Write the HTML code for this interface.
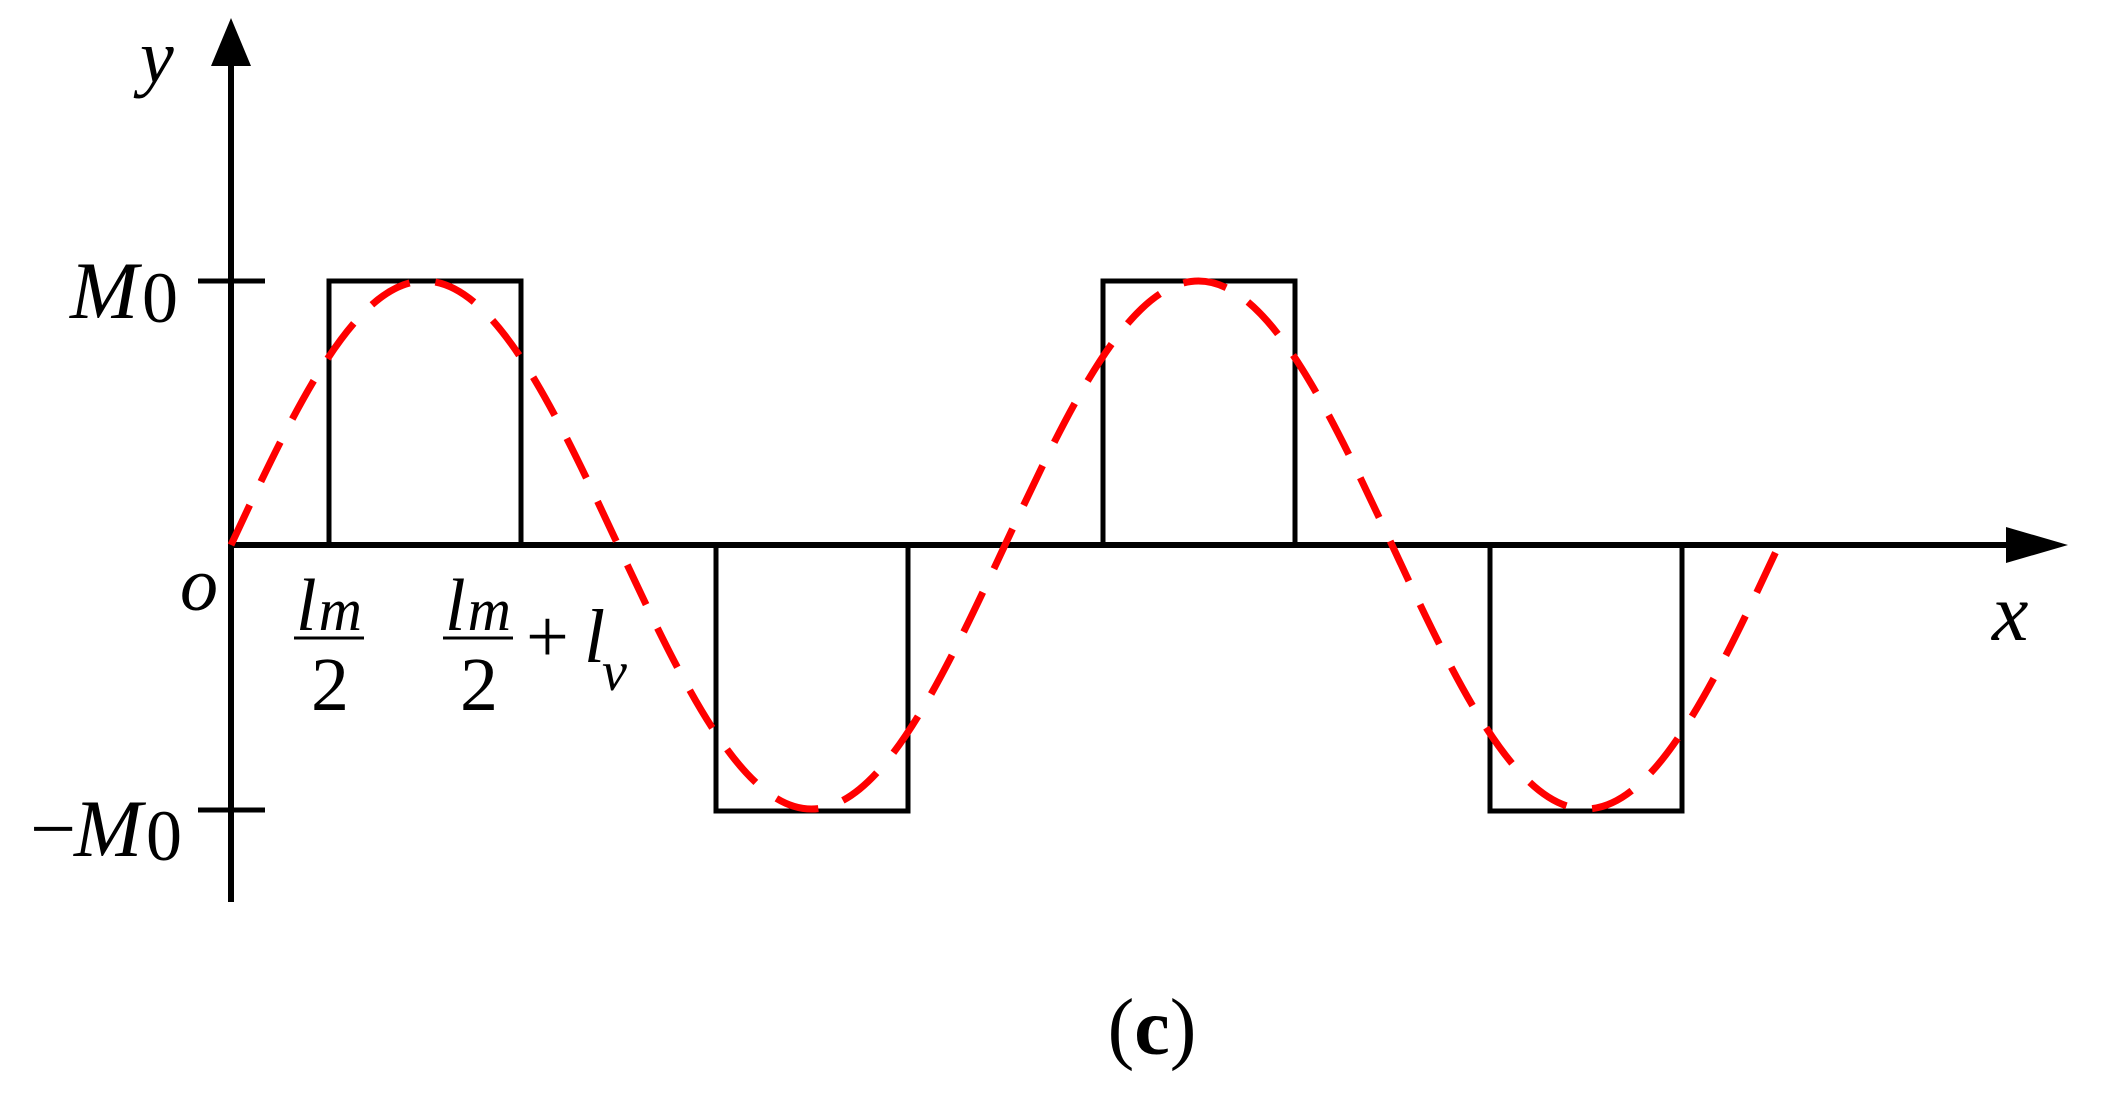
<!DOCTYPE html>
<html><head><meta charset="utf-8"><style>
html,body{margin:0;padding:0;background:#fff;}
svg{display:block;}
text{font-family:"Liberation Serif",serif;fill:#000;}
</style></head><body>
<svg width="2108" height="1116" viewBox="0 0 2108 1116" xmlns="http://www.w3.org/2000/svg">
<rect width="2108" height="1116" fill="#fff"/>
<line x1="231" y1="902" x2="231" y2="60" stroke="#000" stroke-width="6"/>
<polygon points="231,18 211,66 251,66" fill="#000"/>
<line x1="231" y1="545" x2="2015" y2="545" stroke="#000" stroke-width="6"/>
<polygon points="2068,545 2006,527 2006,563" fill="#000"/>
<line x1="198" y1="281" x2="265" y2="281" stroke="#000" stroke-width="5"/>
<line x1="198" y1="810" x2="265" y2="810" stroke="#000" stroke-width="5"/>
<g fill="none" stroke="#000" stroke-width="5">
<polyline points="329,545 329,281 521,281 521,545"/>
<polyline points="716,545 716,811 908,811 908,545"/>
<polyline points="1103,545 1103,281 1295,281 1295,545"/>
<polyline points="1490,545 1490,811 1682,811 1682,545"/>
</g>
<path fill="none" stroke="#ff0000" stroke-width="7" stroke-dasharray="44,26"
d="M231,545 C294.1,409.8 354.5,281 424.5,281 C494.5,281 554.9,409.8 618,545 C681.1,680.2 741.5,809 811.5,809 C881.5,809 941.9,680.2 1005,545 C1068.1,409.8 1128.5,281 1198.5,281 C1268.5,281 1328.9,409.8 1392,545 C1455.1,680.2 1515.5,809 1585.5,809 C1655.5,809 1715.9,680.2 1779,545"/>
<text x="140" y="82" font-size="76" font-style="italic">y</text>
<text x="70" y="318" font-size="82" font-style="italic">M</text><text x="142" y="322" font-size="72">0</text>
<text x="30" y="856" font-size="82">−</text><text x="74" y="856" font-size="82" font-style="italic">M</text><text x="146" y="860" font-size="72">0</text>
<text x="180" y="610" font-size="76" font-style="italic">o</text>
<text x="1992" y="640" font-size="82" font-style="italic">x</text>
<text x="296" y="630" font-size="74" font-style="italic">l<tspan font-size="60" dx="2">m</tspan></text>
<line x1="294" y1="638" x2="364" y2="638" stroke="#000" stroke-width="3"/>
<text x="311" y="710" font-size="76">2</text>
<text x="445" y="630" font-size="74" font-style="italic">l<tspan font-size="60" dx="2">m</tspan></text>
<line x1="443" y1="638" x2="513" y2="638" stroke="#000" stroke-width="3"/>
<text x="460" y="710" font-size="76">2</text>
<text x="526" y="662" font-size="76">+</text>
<text x="584" y="662" font-size="76" font-style="italic">l</text>
<text x="602" y="690" font-size="56" font-style="italic">v</text>
<text x="1152" y="1054" font-size="80" text-anchor="middle">(<tspan font-weight="bold">c</tspan>)</text>
</svg>
</body></html>
